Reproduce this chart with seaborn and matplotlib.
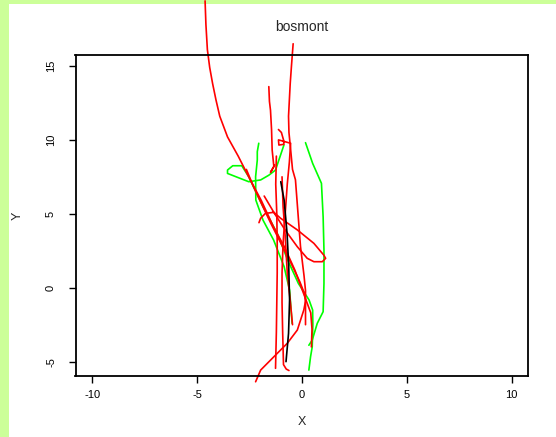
import numpy as np
import pandas as pd
import matplotlib
matplotlib.use("Agg")
import matplotlib.pyplot as plt
import seaborn as sns
from matplotlib.patches import Rectangle

# ---- data ----
r1_x = [-4.62, -4.58, -4.51, -4.40, -4.26, -4.10, -3.92, -3.55, -3.04, -2.54, -1.94, -1.35, -0.85, -0.34, 0.08, 0.42, 0.48, 0.45]
r1_y = [19.4, 17.8, 16.1, 14.9, 13.8, 12.7, 11.6, 10.2, 8.9, 7.5, 5.9, 4.1, 2.8, 1.2, -0.4, -1.7, -2.8, -4.0]

r2_x = [-0.42, -0.50, -0.56, -0.64, -0.62, -0.55, -0.45, -0.31, -0.07, 0.10, 0.17, 0.17]
r2_y = [16.5, 15.0, 13.8, 11.6, 10.5, 9.5, 8.0, 7.3, 2.8, 0.8, -0.2, -2.5]

r3_x = [-1.58, -1.55, -1.50, -1.45, -1.42, -1.34, -1.50, -1.30]
r3_y = [13.6, 12.6, 12.0, 10.7, 9.3, 8.2, 7.8, 8.3]

r4_x = [-1.12, -0.98, -0.88, -0.86, -1.10, -1.12, -0.54, -0.60, -0.70, -0.80, -0.90, -0.95, -0.95, -0.92, -0.88, -0.75, -0.62]
r4_y = [10.7, 10.5, 10.0, 9.7, 9.65, 10.0, 9.77, 8.5, 7.0, 5.0, 3.0, 1.0, -1.0, -3.0, -5.2, -5.5, -5.6]

r5_x = [-1.22, -1.25, -1.20, -1.18, -1.18, -1.20, -1.22, -1.26]
r5_y = [8.9, 7.0, 5.0, 3.0, 1.0, -1.0, -3.0, -5.45]

r6_x = [-2.05, -1.97, -1.74, -1.34, -1.02, -0.22, 0.57, 1.04, 1.13, 0.97, 0.57, 0.25, -0.22, -0.80, -1.30, -1.80]
r6_y = [4.4, 4.7, 5.03, 5.1, 4.7, 3.91, 3.0, 2.21, 1.99, 1.76, 1.76, 1.99, 2.77, 3.9, 5.0, 6.2]

r7_x = [-2.65, -2.30, -1.90, -1.50, -1.00, -0.50, -0.10, 0.12, 0.17, 0.09, -0.22, -0.70, -1.34, -1.97, -2.21]
r7_y = [8.0, 6.8, 5.6, 4.4, 3.0, 1.6, 0.4, -0.4, -0.9, -1.5, -2.86, -3.76, -4.67, -5.57, -6.36]

r8_x = [-0.95, -0.90, -0.80, -0.70, -0.55, -0.45]
r8_y = [7.5, 5.5, 3.5, 1.0, -1.0, -2.5]

k1_x = [-1.01, -0.85, -0.71, -0.63, -0.59, -0.64, -0.76]
k1_y = [7.17, 5.93, 3.68, 1.42, -0.83, -3.09, -5.0]

g1_x = [0.17, 0.51, 0.93, 1.01, 1.05, 1.05, 1.01, 0.73, 0.49, 0.33]
g1_y = [9.81, 8.41, 7.06, 4.80, 2.55, 0.29, -1.62, -2.41, -3.54, -3.89]

g2_x = [-0.86, -1.10, -1.26, -1.58, -1.97, -2.54, -3.55, -3.55, -3.30, -2.87, -2.54, -1.86, -1.18, -0.68, -0.17, 0.34, 0.51, 0.52, 0.49, 0.41, 0.33]
g2_y = [9.65, 8.64, 7.96, 7.61, 7.29, 7.17, 7.73, 7.96, 8.25, 8.25, 7.51, 5.48, 3.68, 1.87, 0.29, -0.83, -1.51, -2.5, -4.0, -4.67, -5.57]

g3_x = [-2.06, -2.13, -2.13, -2.21, -2.20, -1.86, -1.35, -0.85, -0.59, -0.47]
g3_y = [9.77, 9.2, 8.64, 7.51, 5.93, 4.58, 3.22, 1.42, -0.16, -2.41]

tracks = {
    "r1": (r1_x, r1_y, "red"), "r2": (r2_x, r2_y, "red"), "r3": (r3_x, r3_y, "red"),
    "r4": (r4_x, r4_y, "red"), "r5": (r5_x, r5_y, "red"), "r6": (r6_x, r6_y, "red"),
    "r7": (r7_x, r7_y, "red"), "r8": (r8_x, r8_y, "red"),
    "g1": (g1_x, g1_y, "#00ff00"), "g2": (g2_x, g2_y, "#00ff00"), "g3": (g3_x, g3_y, "#00ff00"),
    "k1": (k1_x, k1_y, "black"),
}

xticks = [-10, -5, 0, 5, 10]
yticks = [-5, 0, 5, 10, 15]
title = "bosmont"

rows = []
for name, (xs, ys, c) in tracks.items():
    for i, (a, b) in enumerate(zip(xs, ys)):
        rows.append({"track": name, "order": i, "X": a, "Y": b})
df = pd.DataFrame(rows)
palette = {k: v[2] for k, v in tracks.items()}

sns.set_style("white")
plt.rcParams['font.family'] = ['Liberation Sans', 'DejaVu Sans']

fig = plt.figure(figsize=(5.56, 4.37), dpi=100)
fig.patch.set_facecolor("white")
ax = fig.add_axes([75.5 / 556, 1 - 375.7 / 437, (528.4 - 75.5) / 556, (375.7 - 55) / 437])

order = [k for k in tracks if k.startswith("g")] + [k for k in tracks if k.startswith("r")] + ["k1"]
sns.lineplot(data=df, x="X", y="Y", hue="track", hue_order=order, palette=palette,
             sort=False, estimator=None, units="track", legend=False, ax=ax, linewidth=1.2)
for ln in ax.get_lines():
    ln.set_clip_on(False)
    ln.set_solid_joinstyle("round")

ax.set_xlim(-10.8, 10.8)
ax.set_ylim(-5.95, 15.74)
ax.set_xticks(xticks)
ax.set_yticks(yticks)
ax.set_xticklabels([str(t) for t in xticks], fontsize=8)
ax.set_yticklabels([str(t) for t in yticks], fontsize=8, rotation=90, va="center")
ax.tick_params(axis="x", direction="out", length=5, width=1, color="black", pad=5, labelcolor="black")
ax.tick_params(axis="y", direction="out", length=5, width=1, color="black", pad=9, labelcolor="black")
ax.tick_params(left=True, bottom=True)
for s in ax.spines.values():
    s.set_color("black")
    s.set_linewidth(1.3)
ax.set_xlabel("X", fontsize=9, labelpad=12)
ax.set_ylabel("Y", fontsize=9, labelpad=16)
ax.set_title(title, fontsize=10, pad=17)

fig.patches.append(Rectangle((0, 0), 9 / 556, 1, transform=fig.transFigure,
                             facecolor="#ccff99", edgecolor="none", zorder=-1))
fig.patches.append(Rectangle((0, 1 - 4 / 437), 1, 4 / 437, transform=fig.transFigure,
                             facecolor="#ccff99", edgecolor="none", zorder=-1))

fig.savefig("out.png", dpi=100, facecolor="white")
